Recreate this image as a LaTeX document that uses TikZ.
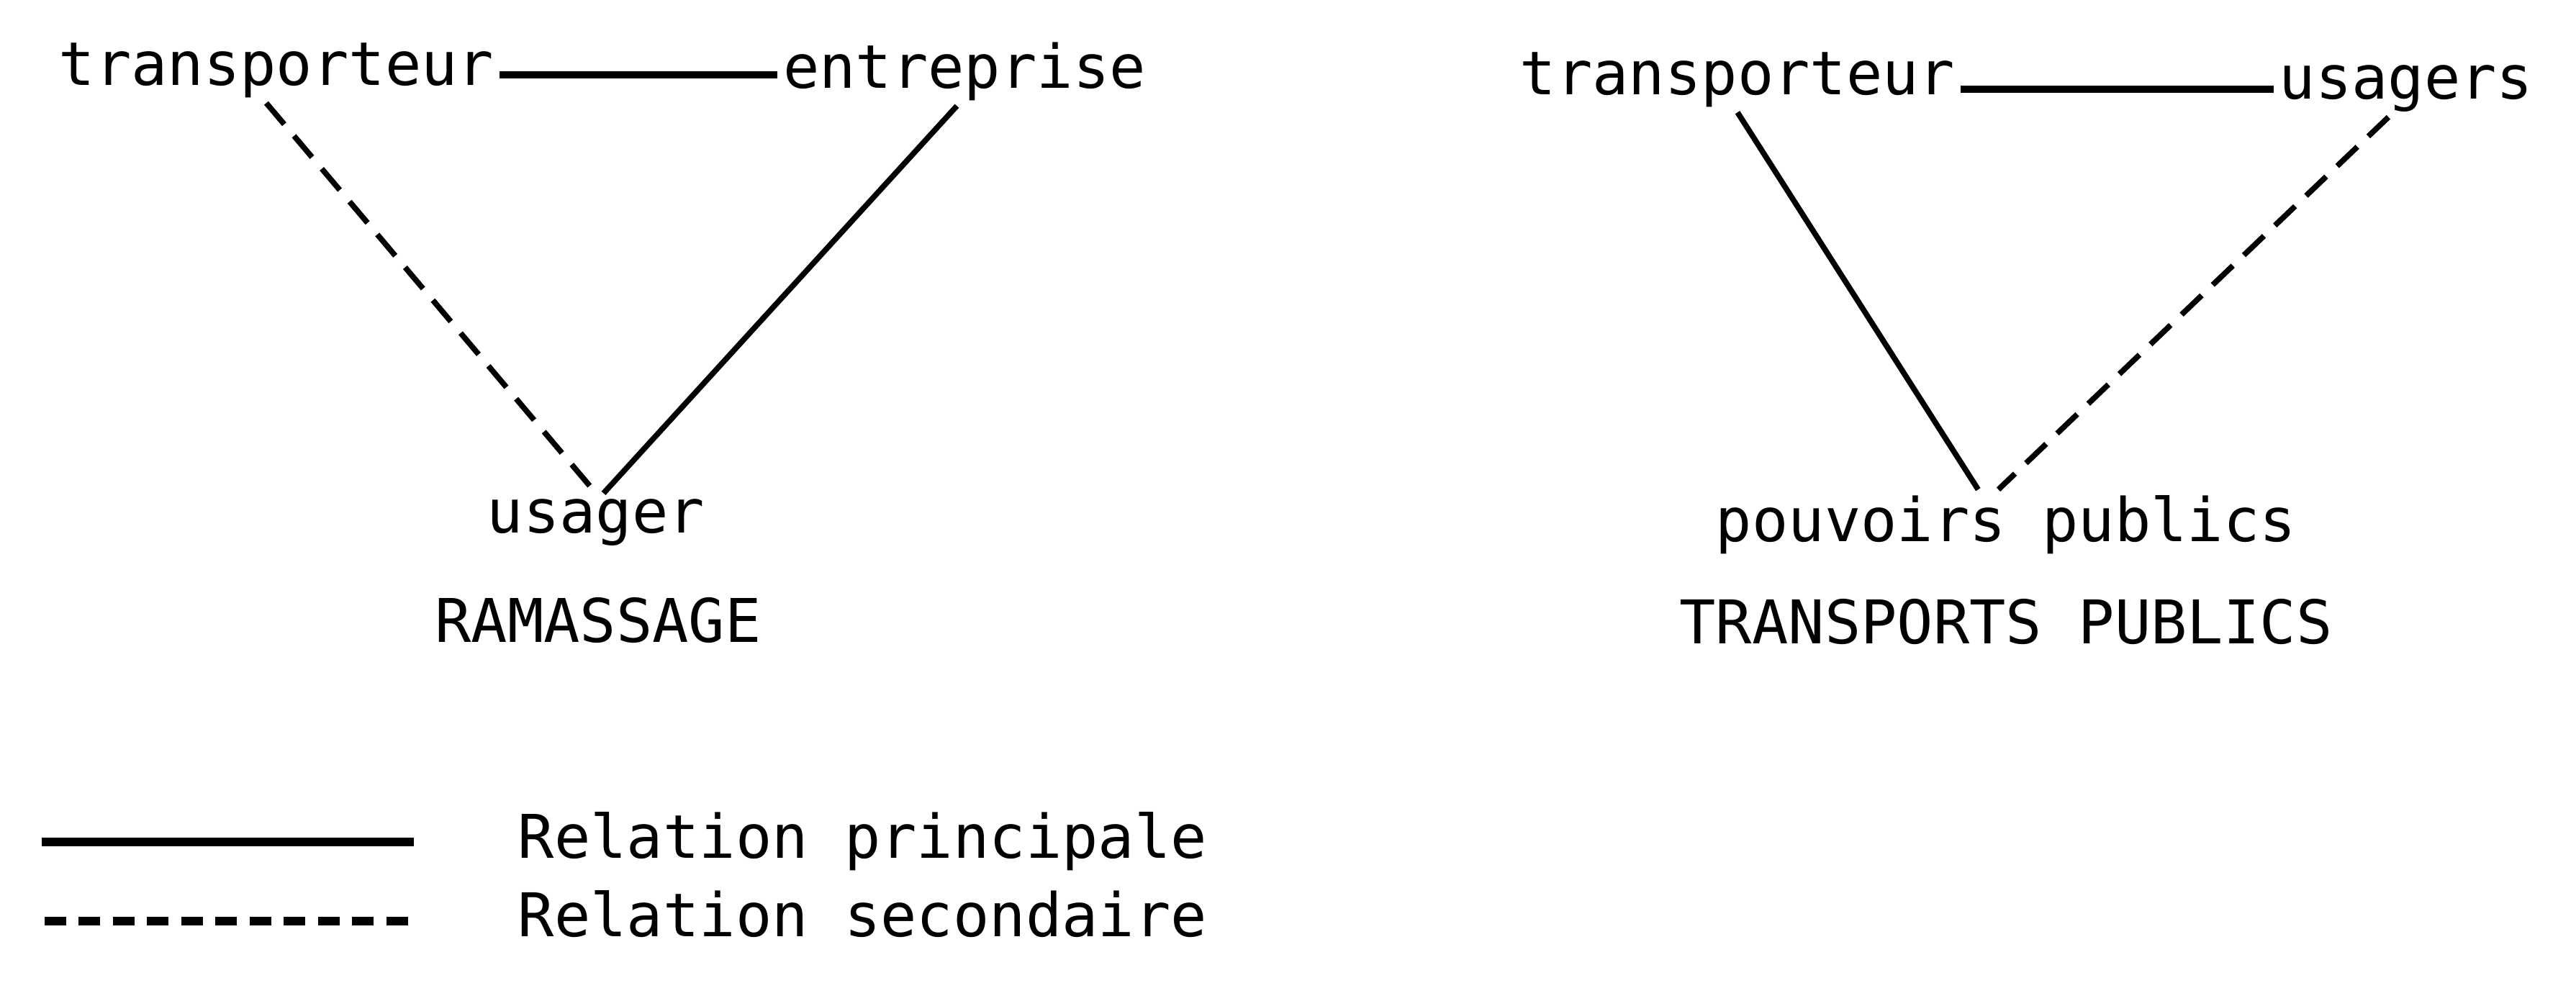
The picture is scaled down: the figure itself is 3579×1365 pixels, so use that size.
\documentclass[tikz,border=0pt]{standalone}
\usepackage{fontspec}
\setmainfont{DejaVu Sans Mono}
\usetikzlibrary{positioning}

\tikzset{
  lbl/.style={inner sep=2pt, font=\fontsize{23.8}{28}\selectfont},
  princ/.style={line width=2.2pt},
  second/.style={line width=2.2pt, dash pattern=on 11pt off 6pt},
}

\begin{document}
\begin{tikzpicture}[x=0.01cm,y=-0.01cm]
\useasboundingbox (0,0) rectangle (3579,1365);
% ramassage
\node[lbl,anchor=base] (tL) at (384,118) {transporteur};
\node[lbl,anchor=base] (eL) at (1340,122) {entreprise};
\node[lbl,anchor=base] (uL) at (828,740) {usager};
\node[lbl,anchor=base] (ram) at (831,892) {RAMASSAGE};
\draw[princ,line width=3pt] ([yshift=4pt]tL.base east) -- ([yshift=4pt]tL.base east -| eL.west);
\draw[second] ([xshift=-4pt]tL.south) -- (uL.north);
\draw[princ] ([xshift=-3pt]eL.south) -- ([xshift=3pt]uL.north);
% transports publics
\node[lbl,anchor=base] (tR) at (2414,131) {transporteur};
\node[lbl,anchor=base] (uR) at (3343,137) {usagers};
\node[lbl,anchor=base] (pp) at (2787,752) {pouvoirs publics};
\node[lbl,anchor=base] (tp) at (2787,894) {TRANSPORTS PUBLICS};
\draw[princ,line width=3pt] ([yshift=2pt]tR.base east) -- ([yshift=2pt]tR.base east -| uR.west);
\draw[princ] (tR.south) -- ([xshift=-11pt]pp.north);
\draw[second] ([xshift=-7pt]uR.south) -- ([xshift=-3pt]pp.north);
% legende
\node[lbl,anchor=base west] (lp) at (712,1192) {Relation principale};
\node[lbl,anchor=base west] (ls) at (712,1301) {Relation secondaire};
\coordinate (lp1) at (58,1170);
\coordinate (lp2) at (575,1170);
\coordinate (ls1) at (62,1280);
\coordinate (ls2) at (575,1280);
\draw[princ,line width=3.4pt] (lp1) -- (lp2);
\draw[line width=3.4pt,dash pattern=on 8.5pt off 5pt] (ls1) -- (ls2);
\end{tikzpicture}
\end{document}
